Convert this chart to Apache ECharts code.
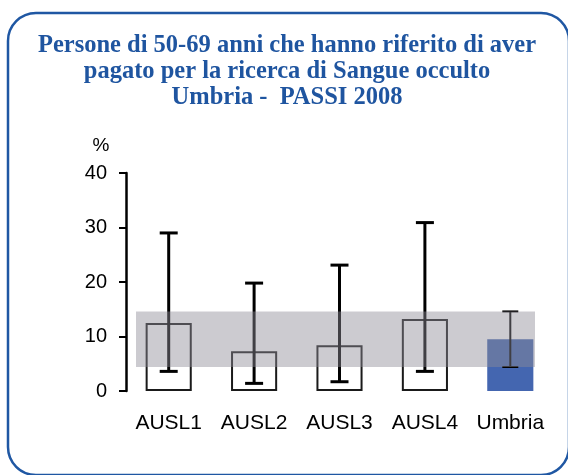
<!DOCTYPE html>
<html>
<head>
<meta charset="utf-8">
<script src="https://cdn.jsdelivr.net/npm/echarts@6/dist/echarts.min.js"></script>
<style>
  html, body { margin: 0; padding: 0; background: #fff; }
  #chart { width: 568px; height: 475px; }
</style>
</head>
<body>
<div id="chart"></div>
<script>
// Areas and estimates (%) with 95% confidence limits
const categories = ['AUSL1', 'AUSL2', 'AUSL3', 'AUSL4', 'Umbria'];
const values = [12.5, 7.3, 8.4, 13.2, 9.5];
const lower = [3.6, 1.4, 1.7, 3.6, 4.4];
const upper = [29.0, 19.8, 23.1, 30.9, 14.6];
const yTicks = [0, 10, 20, 30, 40];

// Regional confidence interval band (Umbria)
const regionIdx = categories.indexOf('Umbria');
const bandLow = lower[regionIdx];
const bandHigh = upper[regionIdx];

const titleLines = [
  'Persone di 50-69 anni che hanno riferito di aver',
  'pagato per la ricerca di Sangue occulto',
  'Umbria -  PASSI 2008'
];

const chart = echarts.init(document.getElementById('chart'), null, { renderer: 'canvas' });

const barData = values.map((v, i) => {
  if (i === regionIdx) {
    return { value: v, itemStyle: { color: '#4466b0', borderWidth: 0 } };
  }
  return { value: v };
});

const errData = categories.map((c, i) => [i, lower[i], upper[i]]);

chart.setOption({
  animation: false,
  backgroundColor: '#ffffff',
  graphic: [
    {
      type: 'rect',
      shape: { x: 8, y: 13, width: 561, height: 462, r: 28 },
      style: { fill: 'none', stroke: '#1f57a3', lineWidth: 2.5 },
      z: 0
    },
    {
      type: 'text',
      style: {
        x: 287,
        y: 33,
        text: titleLines.join('\n'),
        align: 'center',
        verticalAlign: 'top',
        fill: '#1f55a0',
        font: 'bold 24.5px "Liberation Serif", "Times New Roman", serif',
        lineHeight: 26
      },
      z: 10
    },
    {
      type: 'text',
      style: {
        x: 101,
        y: 146,
        text: '%',
        align: 'center',
        verticalAlign: 'middle',
        fill: '#000',
        font: '19px "Liberation Sans", Arial, sans-serif'
      },
      z: 10
    }
  ],
  grid: { left: 126, right: 15, top: 173, bottom: 84, containLabel: false },
  xAxis: {
    type: 'category',
    data: categories,
    axisLine: { show: false },
    axisTick: { show: false },
    axisLabel: {
      interval: 0,
      hideOverlap: false,
      color: '#000',
      fontSize: 21,
      fontFamily: '"Liberation Sans", Arial, sans-serif',
      margin: 22
    }
  },
  yAxis: {
    type: 'value',
    min: yTicks[0],
    max: yTicks[yTicks.length - 1],
    interval: 10,
    splitLine: { show: false },
    axisLine: { show: true, lineStyle: { color: '#000', width: 2.5 } },
    axisTick: { show: true, length: 7, lineStyle: { color: '#000', width: 2 } },
    axisLabel: {
      color: '#000',
      fontSize: 20,
      fontFamily: '"Liberation Sans", Arial, sans-serif',
      margin: 19
    }
  },
  series: [
    {
      type: 'bar',
      data: barData,
      barWidth: '54%',
      itemStyle: { color: '#ffffff', borderColor: '#1a1a1a', borderWidth: 2 },
      z: 2
    },
    {
      type: 'custom',
      data: errData,
      z: 3,
      renderItem: function (params, api) {
        const i = api.value(0);
        const lo = api.coord([i, api.value(1)]);
        const hi = api.coord([i, api.value(2)]);
        const isRegion = i === regionIdx;
        const half = isRegion ? 8 : 9;
        const lw = isRegion ? 2 : 3;
        const style = { stroke: '#000', lineWidth: lw };
        return {
          type: 'group',
          children: [
            { type: 'line', shape: { x1: hi[0], y1: hi[1], x2: lo[0], y2: lo[1] }, style: style },
            { type: 'line', shape: { x1: hi[0] - half, y1: hi[1], x2: hi[0] + half, y2: hi[1] }, style: style },
            { type: 'line', shape: { x1: lo[0] - half, y1: lo[1], x2: lo[0] + half, y2: lo[1] }, style: style }
          ]
        };
      }
    },
    {
      // translucent band for the regional confidence interval
      type: 'custom',
      data: [[0, bandLow, bandHigh]],
      z: 5,
      renderItem: function (params, api) {
        const cs = params.coordSys;
        const yLo = api.coord([0, api.value(1)])[1];
        const yHi = api.coord([0, api.value(2)])[1];
        const x0 = cs.x + 10;
        const x1 = cs.x + cs.width - 18;
        return {
          type: 'rect',
          shape: { x: x0, y: yHi, width: x1 - x0, height: yLo - yHi },
          style: { fill: 'rgba(142,140,150,0.45)' }
        };
      }
    }
  ]
});
</script>
</body>
</html>
